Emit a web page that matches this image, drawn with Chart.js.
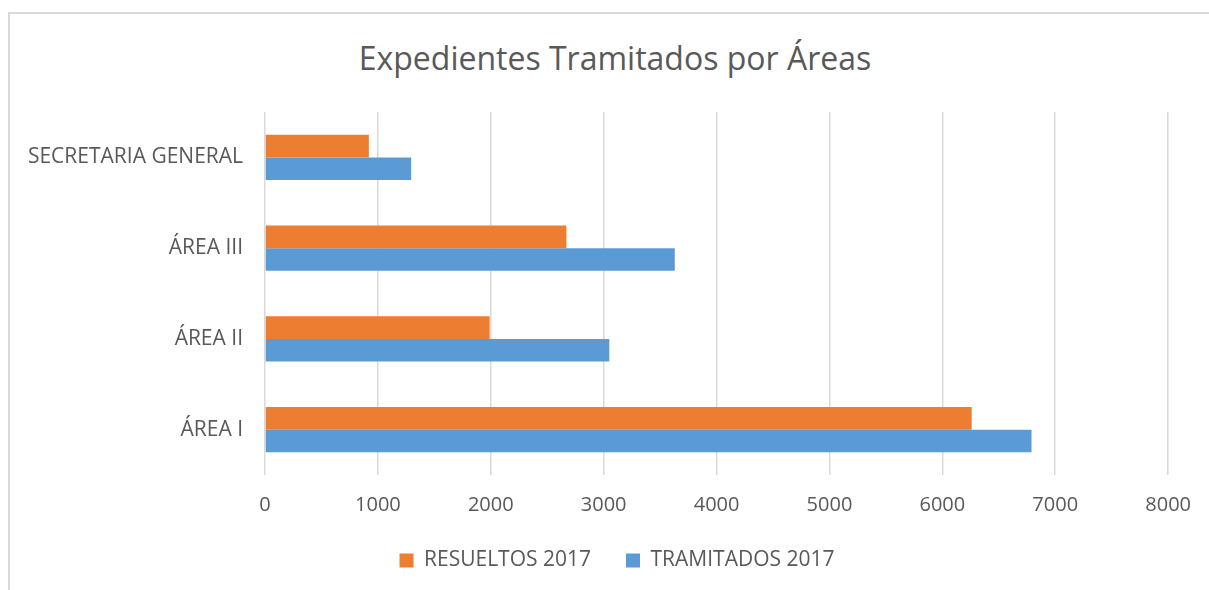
<!DOCTYPE html>
<html lang="es">
<head>
  <meta charset="UTF-8">
  <title>Expedientes Tramitados por Áreas</title>
  <script src="https://cdn.jsdelivr.net/npm/chart.js"></script>
  <style>
    html, body { margin: 0; padding: 0; background: #fff; }
    body { width: 1209px; height: 590px; overflow: hidden; position: relative; }
    /* frame line at top and left like the original export */
    .frame { position: absolute; left: 8px; top: 12px; right: 0; bottom: 0;
             border-top: 2px solid #d9d9d9; border-left: 2px solid #d9d9d9; }
    #wrap { position: absolute; left: 0; top: 0; width: 1209px; height: 590px; }
    /* title sits centred on the frame, not on the canvas padding box */
    .title { position: absolute; left: 215px; width: 800px; top: 38px; text-align: center;
             font: 32px 'Open Sans', 'Noto Sans', sans-serif; color: #595959; line-height: 40px; }
  </style>
</head>
<body>
  <div class="frame"></div>
  <div class="title">Expedientes Tramitados por Áreas</div>
  <div id="wrap"><canvas id="chart"></canvas></div>

  <script>
    // data
    const areas = ['SECRETARIA GENERAL', 'ÁREA III', 'ÁREA II', 'ÁREA I'];
    const resueltos2017 = [920, 2670, 1990, 6260];
    const tramitados2017 = [1295, 3630, 3050, 6790];
    const xTicks = [0, 1000, 2000, 3000, 4000, 5000, 6000, 7000, 8000];

    const textColor = '#595959';
    const fontFamily = "'Open Sans', 'Noto Sans', sans-serif";

    // legend in the original is centred on the frame, a bit right of the canvas centre
    const shiftLegend = {
      id: 'shiftLegend',
      afterLayout(chart) { chart.legend.left += 44; }
    };

    const ctx = document.getElementById('chart').getContext('2d');
    new Chart(ctx, {
      type: 'bar',
      data: {
        labels: areas,
        datasets: [
          {
            label: 'RESUELTOS 2017',
            data: resueltos2017,
            backgroundColor: '#ED7D31',
            categoryPercentage: 0.5,
            barPercentage: 1.0
          },
          {
            label: 'TRAMITADOS 2017',
            data: tramitados2017,
            backgroundColor: '#5B9BD5',
            categoryPercentage: 0.5,
            barPercentage: 1.0
          }
        ]
      },
      plugins: [shiftLegend],
      options: {
        indexAxis: 'y',
        responsive: true,
        maintainAspectRatio: false,
        animation: false,
        layout: { padding: { left: 12, right: 31, top: 112, bottom: 9 } },
        plugins: {
          title: { display: false },
          legend: {
            position: 'bottom',
            labels: {
              color: textColor,
              font: { family: fontFamily, size: 21 },
              boxWidth: 14,
              boxHeight: 14,
              padding: 35
            }
          },
          tooltip: { enabled: false }
        },
        scales: {
          x: {
            min: 0,
            max: 8000,
            afterBuildTicks: axis => { axis.ticks = xTicks.map(v => ({ value: v })); },
            afterFit: axis => { axis.height = 40; },
            grid: { color: '#d9d9d9', lineWidth: 1.5, drawTicks: false },
            border: { display: false },
            ticks: {
              color: textColor,
              font: { family: fontFamily, size: 20 },
              padding: 18,
              callback: v => String(v)
            }
          },
          y: {
            afterFit: axis => { axis.width = 253; },
            grid: { display: false, drawTicks: false },
            border: { display: false },
            ticks: {
              color: textColor,
              font: { family: fontFamily, size: 21 },
              padding: 22
            }
          }
        }
      }
    });
  </script>
</body>
</html>
